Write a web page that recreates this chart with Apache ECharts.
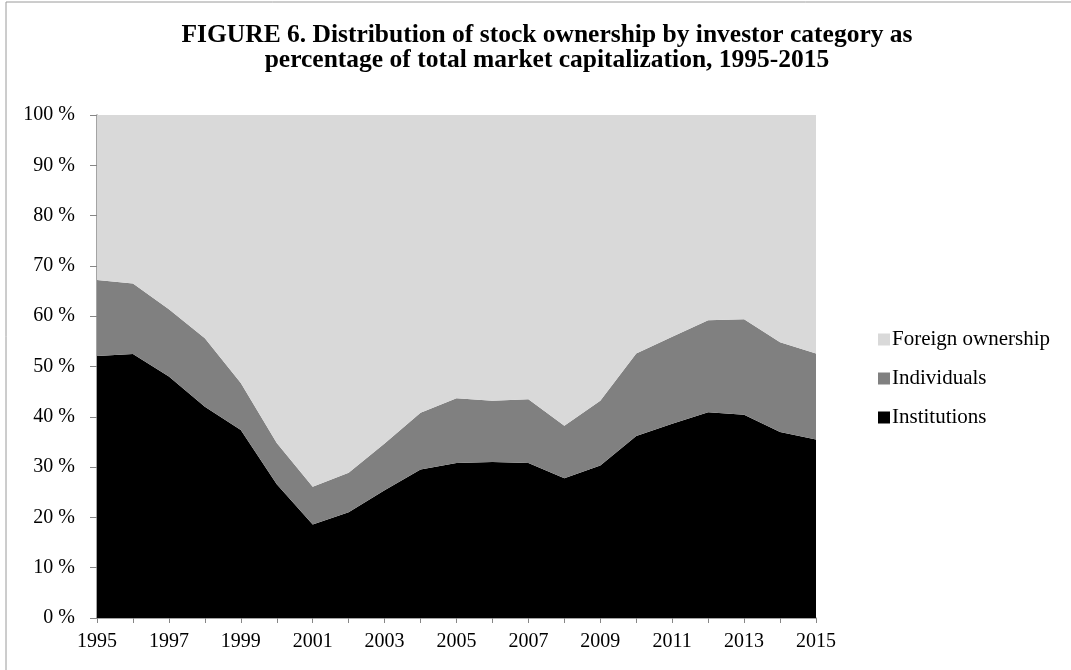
<!DOCTYPE html>
<html>
<head>
<meta charset="utf-8">
<title>Figure 6</title>
<script src="https://cdn.jsdelivr.net/npm/echarts@6/dist/echarts.min.js"></script>
<style>
  html, body { margin: 0; padding: 0; background: #fff; }
  #chart { width: 1071px; height: 670px; }
</style>
</head>
<body>
<div id="chart"></div>
<script>
// years on the x axis
var years = ['1995', '1996', '1997', '1998', '1999', '2000', '2001', '2002', '2003', '2004', '2005',
  '2006', '2007', '2008', '2009', '2010', '2011', '2012', '2013', '2014', '2015'];

// shares of market cap, %
var institutions = [52.1, 52.5, 48.0, 42.0, 37.4, 26.6, 18.6, 21.0, 25.4, 29.5, 30.8,
  31.0, 30.8, 27.8, 30.3, 36.2, 38.6, 40.9, 40.4, 37.0, 35.5];
var individuals = [15.1, 14.0, 13.4, 13.6, 9.3, 8.2, 7.5, 7.9, 9.3, 11.3, 12.9,
  12.2, 12.7, 10.4, 12.9, 16.4, 17.3, 18.3, 19.0, 17.8, 17.1];
var foreign = [32.8, 33.5, 38.6, 44.4, 53.3, 65.2, 73.9, 71.1, 65.3, 59.2, 56.3,
  56.8, 56.5, 61.8, 56.8, 47.4, 44.1, 40.8, 40.6, 45.2, 47.4];

var serif = '"Liberation Serif", "Times New Roman", serif';
var axisGray = '#868686';

function areaSeries(name, data, color) {
  return {
    name: name,
    type: 'line',
    stack: 'total',
    data: data,
    symbol: 'none',
    lineStyle: { width: 0 },
    areaStyle: { color: color, opacity: 1 },
    itemStyle: { color: color }
  };
}

var chart = echarts.init(document.getElementById('chart'));
chart.setOption({
  animation: false,
  backgroundColor: '#fff',
  textStyle: { fontFamily: serif, color: '#000' },
  title: {
    text: 'FIGURE 6. Distribution of stock ownership by investor category as\npercentage of total market capitalization, 1995-2015',
    left: 542,
    textAlign: 'center',
    top: 18,
    textStyle: {
      fontFamily: serif,
      fontWeight: 'bold',
      fontSize: 25.5,
      lineHeight: 25,
      color: '#000'
    }
  },
  legend: {
    orient: 'vertical',
    left: 873,
    top: 324,
    icon: 'rect',
    itemWidth: 12,
    itemHeight: 12,
    itemGap: 18,
    data: ['Foreign ownership', 'Individuals', 'Institutions'],
    textStyle: { fontFamily: serif, fontSize: 21, lineHeight: 21, color: '#000', padding: [0, 0, 0, -3] }
  },
  grid: { left: 97, right: 255, top: 115, bottom: 52 },
  xAxis: {
    type: 'category',
    data: years,
    boundaryGap: false,
    axisLine: { lineStyle: { color: axisGray, width: 1.5 } },
    axisTick: { show: true, interval: 0, length: 5, lineStyle: { color: axisGray } },
    axisLabel: { interval: 1, margin: 14, fontFamily: serif, fontSize: 20, color: '#000' },
    splitLine: { show: false }
  },
  yAxis: {
    type: 'value',
    min: 0,
    max: 100,
    interval: 10,
    axisLine: { show: true, lineStyle: { color: axisGray, width: 1.5 } },
    axisTick: { show: true, length: 7, lineStyle: { color: axisGray } },
    axisLabel: { formatter: '{value} %', margin: 22, fontFamily: serif, fontSize: 20, color: '#000' },
    splitLine: { show: false }
  },
  graphic: [{
    type: 'rect',
    shape: { x: 6, y: 2, width: 1100, height: 700 },
    style: { fill: 'none', stroke: '#9a9a9a', lineWidth: 1 },
    silent: true
  }],
  series: [
    areaSeries('Institutions', institutions, '#000000'),
    areaSeries('Individuals', individuals, '#808080'),
    areaSeries('Foreign ownership', foreign, '#d9d9d9')
  ]
});
</script>
</body>
</html>
